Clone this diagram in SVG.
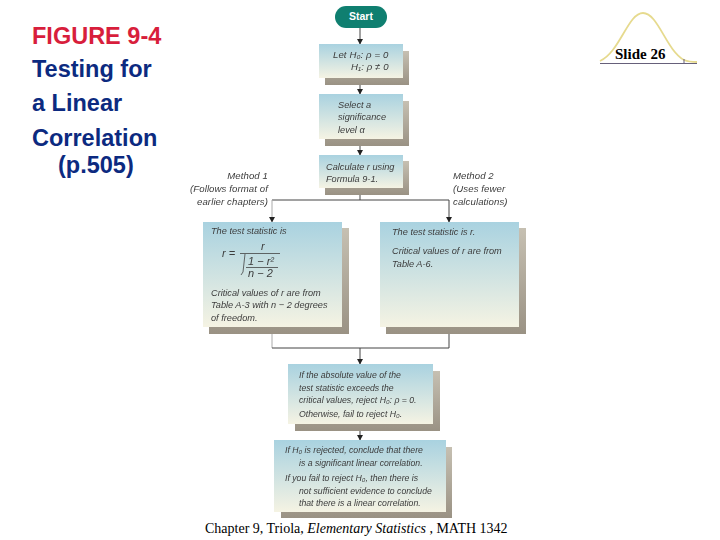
<svg xmlns="http://www.w3.org/2000/svg" width="720" height="540" viewBox="0 0 720 540">
<style>
.t{font-family:"Liberation Sans",Arial,sans-serif;font-size:23.5px;font-weight:bold;fill:#0c2a80}
.s{font-family:"Liberation Serif","Times New Roman",serif;font-size:14px;fill:#000}
.b{font-family:"Liberation Sans",Arial,sans-serif;font-size:9.2px;font-style:italic;fill:#3c3c3c;filter:url(#soft)}
.m{font-size:9.600px;letter-spacing:.1px}
.n{font-size:8.700px}
.f{font-size:11px}
.sh{fill:url(#sg)}
.bx{fill:url(#bg)}
.c{fill:none;stroke:#444;stroke-width:1}
.l{fill:none;stroke:#aaa;stroke-width:1}
</style>
<defs>
<filter id="soft" x="-5%" y="-20%" width="110%" height="140%"><feGaussianBlur stdDeviation="0.3"/></filter>
<linearGradient id="bg" x1="0" y1="0" x2="0" y2="1"><stop offset="0" stop-color="#a9d2e0"/><stop offset="1" stop-color="#f5f3e3"/></linearGradient>
<linearGradient id="sg" x1="0" y1="0" x2="0" y2="1"><stop offset="0" stop-color="#c6c0b2"/><stop offset="1" stop-color="#9a9284"/></linearGradient>
<marker id="a" markerUnits="userSpaceOnUse" markerWidth="6" markerHeight="6" refX="5" refY="3" orient="auto"><path d="M0,0L5.500,3L0,6Z" fill="#222"/></marker>
</defs>
<text class="t" x="32" y="44" style="fill:#d81e3c">FIGURE 9-4</text>
<text class="t" x="32" y="77">Testing for</text>
<text class="t" x="32" y="110.500">a Linear</text>
<text class="t" x="32" y="145.500">Correlation</text>
<text class="t" x="58" y="173">(p.505)</text>
<g id="bell">
<path d="M600,61C620,52 628,13 643,13C658,13 666,50 684,60C689,62 692,62 697,62" fill="none" stroke="#e6da8e" stroke-width="1.800"/>
<path d="M600,63.500H697M684,59V63" fill="none" stroke="#66607a" stroke-width="1"/>
<text class="s" x="615" y="59" style="font-size:15px;font-weight:bold">Slide 26</text>
</g>
<g id="connectors">
<path class="c" d="M360,28V44" marker-end="url(#a)"/>
<path class="c" d="M360,78V94" marker-end="url(#a)"/>
<path class="c" d="M360,139V155" marker-end="url(#a)"/>
<path class="c" d="M360,188V200"/>
<path class="c" d="M272,200H449V222" marker-end="url(#a)"/>
<path class="l" d="M272,200V222" marker-end="url(#a)"/>
<path class="l" d="M272,327V348"/>
<path class="c" d="M272,348H449V327"/>
<path class="c" d="M360,348V364" marker-end="url(#a)"/>
<path class="c" d="M360,424V440" marker-end="url(#a)"/>
</g>
<g id="start"><rect x="335" y="6" width="52" height="22" rx="11" fill="#0f7f70"/><text x="361" y="20" text-anchor="middle" style="font-family:'Liberation Sans',Arial,sans-serif;font-size:10.500px;font-weight:bold;fill:#fff">Start</text></g>
<g id="hypotheses"><rect class="sh" x="325" y="51" width="84" height="34"/><rect class="bx" x="319" y="44" width="84" height="34"/>
<text class="b m" x="333" y="58">Let H₀: ρ = 0</text><text class="b m" x="351" y="70">H₁: ρ ≠ 0</text></g>
<g id="significance"><rect class="sh" x="325" y="101" width="84" height="45"/><rect class="bx" x="319" y="94" width="84" height="45"/>
<text class="b" x="338" y="108">Select a</text><text class="b" x="338" y="120">significance</text><text class="b" x="338" y="133">level α</text></g>
<g id="calculate"><rect class="sh" x="325" y="161" width="84" height="34"/><rect class="bx" x="319" y="155" width="84" height="33"/>
<text class="b" x="326" y="170">Calculate r using</text><text class="b" x="326" y="182">Formula 9-1.</text></g>
<g id="method1-label"><text class="b m" x="268" y="179" text-anchor="end">Method 1</text><text class="b m" x="268" y="192" text-anchor="end">(Follows format of</text><text class="b m" x="268" y="205" text-anchor="end">earlier chapters)</text></g>
<g id="method2-label"><text class="b m" x="453" y="179">Method 2</text><text class="b m" x="453" y="192">(Uses fewer</text><text class="b m" x="453" y="205">calculations)</text></g>
<g id="method1"><rect class="sh" x="209" y="228" width="140" height="106"/><rect class="bx" x="203" y="222" width="139" height="105"/>
<text class="b" x="211" y="234">The test statistic is</text>
<text class="b f" x="222" y="257">r =</text>
<text class="b f" x="261" y="250">r</text>
<path d="M240,253.500H280M241,275L243,272L245,254M246,267.500H278" fill="none" stroke="#444" stroke-width=".8"/>
<text class="b f" x="248" y="265">1 − r²</text>
<text class="b f" x="248" y="277">n − 2</text>
<text class="b" x="211" y="296">Critical values of r are from</text>
<text class="b" x="211" y="308">Table A-3 with n − 2 degrees</text>
<text class="b" x="211" y="321">of freedom.</text></g>
<g id="method2"><rect class="sh" x="386" y="228" width="140" height="106"/><rect class="bx" x="380" y="222" width="139" height="105"/>
<text class="b" x="392" y="235">The test statistic is r.</text>
<text class="b" x="392" y="254">Critical values of r are from</text>
<text class="b" x="392" y="267">Table A-6.</text></g>
<g id="decision"><rect class="sh" x="295" y="371" width="145" height="60"/><rect class="bx" x="288" y="364" width="145" height="60"/>
<text class="b n" x="299" y="378">If the absolute value of the</text><text class="b n" x="299" y="391">test statistic exceeds the</text><text class="b n" x="299" y="403">critical values, reject H₀: ρ = 0.</text><text class="b n" x="299" y="417">Otherwise, fail to reject H₀.</text></g>
<g id="conclusion"><rect class="sh" x="281" y="447" width="171" height="71"/><rect class="bx" x="274" y="440" width="172" height="72"/>
<text class="b n" x="285" y="453">If H₀ is rejected, conclude that there</text><text class="b n" x="299" y="466">is a significant linear correlation.</text><text class="b n" x="285" y="481">If you fail to reject H₀, then there is</text><text class="b n" x="299" y="494">not sufficient evidence to conclude</text><text class="b n" x="299" y="506">that there is a linear correlation.</text></g>
<text class="s" x="205" y="533">Chapter 9, Triola, <tspan font-style="italic">Elementary Statistics</tspan> , MATH 1342</text>
</svg>
